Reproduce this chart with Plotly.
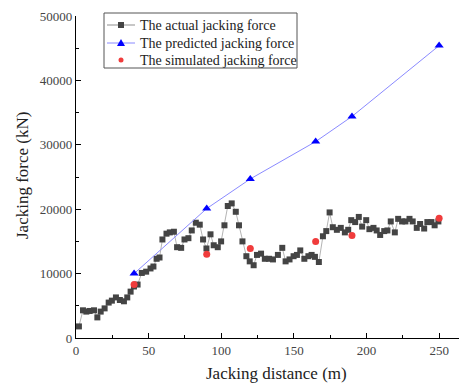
import plotly.graph_objects as go

# Actual jacking force (measured)
actual_x = [2, 4.8, 7.1, 9.4, 12.4, 14.7, 17, 19.7, 22.5, 24.7, 27.5, 30.2, 33, 35.3, 37.6, 39.9,
            42.4, 45.3, 48.3, 51.3, 53.3, 55.5, 57.5, 59.5, 62.3, 64.6, 67.4, 69.6, 72.4, 74.7,
            77.4, 79.7, 82.5, 85.2, 87.5, 89.8, 92.6, 94.8, 97.6, 99.9, 102.2, 104.5, 107.2, 110,
            112.2, 114.6, 117.3, 119.6, 122.3, 124.6, 127.4, 130, 132.9, 135.6, 139, 142, 144.3,
            147, 149.8, 152.1, 154.4, 157.2, 160, 162.2, 164.5, 167.2, 170, 172.3, 174.6, 176.8,
            179.6, 182.3, 185.1, 187.4, 189.5, 192.2, 194.7, 197, 199.8, 202, 204.8, 207, 209.4,
            212.2, 214.4, 216.7, 219.5, 221.8, 224.5, 226.8, 229.6, 231.8, 234.6, 236.9, 239.7,
            241.9, 244.7, 246.9, 249.5]
actual_y = [1800, 4300, 4100, 4200, 4300, 3200, 4100, 4600, 5500, 5800, 6300, 5900, 5700, 6300, 7200, 8000,
            8300, 10100, 10300, 10800, 11100, 12300, 12500, 15300, 16200, 16400, 16500, 14100, 14000, 15300,
            15500, 16700, 17900, 17600, 15300, 13900, 16100, 14400, 14100, 15000, 17500, 20500, 20900, 19600,
            17500, 15000, 12700, 11900, 11300, 12900, 13100, 12300, 12300, 12200, 12900, 14000, 11900,
            12200, 12700, 12900, 13600, 12300, 12700, 12900, 12600, 11800, 15800, 16600, 19500, 17200,
            16800, 17100, 16400, 16800, 18300, 18000, 18800, 17300, 18300, 16900, 17100, 16700, 16000,
            16600, 16700, 18100, 16400, 18500, 18100, 18100, 18500, 18100, 17100, 17700, 17000,
            18000, 18000, 17500, 18100]

# Predicted jacking force
pred_x = [40, 90, 120, 165, 190, 250]
pred_y = [10000, 20100, 24700, 30500, 34400, 45400]

# Simulated jacking force
sim_x = [40, 90, 120, 165, 190, 250]
sim_y = [8300, 13000, 13900, 15000, 15900, 18600]

# Tick labels
x_ticks = [0, 50, 100, 150, 200, 250]
x_ticklabels = ["0", "50", "100", "150", "200", "250"]
y_ticks = [0, 10000, 20000, 30000, 40000, 50000]
y_ticklabels = ["0", "10000", "20000", "30000", "40000", "50000"]

series_names = ["The actual jacking force", "The predicted jacking force", "The simulated jacking force"]

FONT = "Liberation Serif"
C_ACT_LINE, C_ACT_MK = "#b4b4b4", "#444444"
C_PRED_LINE, C_PRED_MK = "#8a8aff", "#0000ff"
C_SIM = "#f03c3c"

# figure geometry (pixels, figure coordinates)
W, H = 459, 377
ML, MR, MT, MB = 68, 1, 8, 47
PW, PH = W - ML - MR, H - MT - MB


def px(x):
    return (x - ML) / PW


def py(y):
    return (H - MB - y) / PH


fig = go.Figure()
fig.add_trace(go.Scatter(
    x=actual_x, y=actual_y, mode="lines+markers", name=series_names[0],
    line=dict(color=C_ACT_LINE, width=1),
    marker=dict(symbol="square", size=6, color=C_ACT_MK),
))
fig.add_trace(go.Scatter(
    x=pred_x, y=pred_y, mode="lines+markers", name=series_names[1],
    line=dict(color=C_PRED_LINE, width=1),
    marker=dict(symbol="triangle-up", size=8, color=C_PRED_MK),
))
fig.add_trace(go.Scatter(
    x=sim_x, y=sim_y, mode="markers", name=series_names[2],
    marker=dict(symbol="circle", size=7, color=C_SIM),
))

axis_common = dict(
    showline=True, linecolor="black", linewidth=1.2, showgrid=False, zeroline=False,
    ticks="inside", ticklen=5, tickwidth=1.2, tickcolor="black",
    tickfont=dict(family=FONT, size=13, color="#444444"),
    mirror=False, automargin=False,
)

fig.update_xaxes(
    range=[0, 268.5], tickmode="array", tickvals=x_ticks, ticktext=x_ticklabels,
    minor=dict(ticks="inside", ticklen=3, tickwidth=1, tickcolor="black", dtick=25, tick0=0),
    **axis_common,
)
fig.update_yaxes(
    range=[0, 50000], tickmode="array", tickvals=y_ticks, ticktext=y_ticklabels,
    minor=dict(ticks="inside", ticklen=3, tickwidth=1, tickcolor="black", dtick=5000, tick0=0),
    **axis_common,
)

shapes = []
annotations = []

# axis titles
annotations.append(dict(xref="paper", yref="paper", x=px(268), y=py(365), text="Jacking distance (m)",
                        showarrow=False, xanchor="center", yanchor="middle",
                        font=dict(family=FONT, size=17, color="#222222")))
annotations.append(dict(xref="paper", yref="paper", x=px(14), y=py(168), text="Jacking force (kN)",
                        showarrow=False, xanchor="center", yanchor="middle", textangle=-90,
                        font=dict(family=FONT, size=17, color="#222222")))

# legend (drawn manually for compact spacing)
shapes.append(dict(type="rect", xref="paper", yref="paper", x0=px(96), x1=px(289), y0=py(5), y1=py(60),
                   line=dict(color="#555555", width=1), fillcolor="white", layer="above"))
rows = [17, 35, 52]
for i, (row, name) in enumerate(zip(rows, series_names)):
    if i < 2:
        lc = C_ACT_LINE if i == 0 else C_PRED_LINE
        shapes.append(dict(type="line", xref="paper", yref="paper", x0=px(99), x1=px(127),
                           y0=py(row), y1=py(row), line=dict(color=lc, width=1.5 if i == 0 else 1), layer="above"))
    if i == 0:
        shapes.append(dict(type="rect", xref="paper", yref="paper", x0=px(110), x1=px(116),
                           y0=py(row - 3), y1=py(row + 3), line=dict(width=0), fillcolor=C_ACT_MK, layer="above"))
    elif i == 1:
        path = f"M {px(109)} {py(row + 3)} L {px(117)} {py(row + 3)} L {px(113)} {py(row - 4)} Z"
        shapes.append(dict(type="path", xref="paper", yref="paper", path=path,
                           line=dict(width=0), fillcolor=C_PRED_MK, layer="above"))
    else:
        shapes.append(dict(type="circle", xref="paper", yref="paper", x0=px(110.5), x1=px(115.5),
                           y0=py(row - 2.5), y1=py(row + 2.5), line=dict(width=0), fillcolor=C_SIM, layer="above"))
    annotations.append(dict(xref="paper", yref="paper", x=px(130), y=py(row), text=name,
                            showarrow=False, xanchor="left", yanchor="middle",
                            font=dict(family=FONT, size=14, color="#222222")))

fig.update_layout(
    width=W, height=H,
    margin=dict(l=ML, r=MR, t=MT, b=MB),
    font=dict(family=FONT),
    plot_bgcolor="white", paper_bgcolor="white",
    showlegend=False,
    shapes=shapes, annotations=annotations,
)

fig.write_html("out.html")
